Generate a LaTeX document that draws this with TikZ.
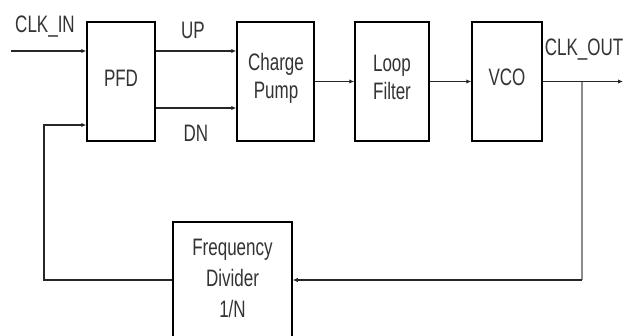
\documentclass[tikz,border=0pt]{standalone}
\usepackage{fontspec}
\setmainfont{Liberation Sans}
\usetikzlibrary{arrows.meta}
\newcommand{\vstr}[1]{\scalebox{1}[1.4]{\begin{tabular}{@{}c@{}}#1\end{tabular}}}
\tikzset{
  blk/.style={draw=black, line width=1.5pt, fill=white, inner sep=0pt},
  wire/.style={line width=1.5pt, draw=black!85},
  arr/.style={wire, -{Latex[length=5pt,width=4.5pt]}},
  lbl/.style={inner sep=0pt, text=black!80, font=\fontsize{17}{20}\selectfont},
}
\begin{document}
\begin{tikzpicture}[x=1pt,y=-1pt]
\useasboundingbox (0,0) rectangle (629,335);
\clip (0,0) rectangle (629,335);
\node[blk, minimum width=68pt, minimum height=119pt] (pfd) at (121,81.5) {};
\node[lbl] (pfdt) at (121,81) {\vstr{PFD}};
\node[blk, minimum width=77pt, minimum height=119pt] (cp) at (275.5,81.5) {};
\node[lbl] (cpt) at (276,79) {\vstr{Charge\\Pump}};
\node[blk, minimum width=74pt, minimum height=119pt] (lf) at (392,81.5) {};
\node[lbl] (lft) at (392,80) {\vstr{Loop\\Filter}};
\node[blk, minimum width=70pt, minimum height=119pt] (vco) at (507,81.5) {};
\node[lbl] (vcot) at (507,80) {\vstr{VCO}};
\node[blk, minimum width=119pt, minimum height=130pt] (div) at (232.5,287) {};
\node[lbl] (divt) at (232.5,281) {\scalebox{1}[1.4]{\begin{tabular}{@{}c@{}}Frequency\\[2pt]Divider\\[2pt]1/N\end{tabular}}};

\node[lbl] (clkin) at (45,27) {\vstr{CLK\_IN}};
\node[lbl] (up) at (193,33) {\vstr{UP}};
\node[lbl] (dn) at (196,136) {\vstr{DN}};
\node[lbl] (clkout) at (584,50) {\vstr{CLK\_OUT}};

\coordinate (cin) at (11,51);
\coordinate (dny) at (0,108);
\coordinate (fby) at (0,125);
\coordinate (cout) at (623,81.5);
\coordinate (tap) at (582,81.5);
\coordinate (tapb) at (582,280);
\coordinate (fbl) at (44,280);
\coordinate (fbt) at (44,125);

\draw[arr] (cin) -- (cin -| pfd.west);
\draw[arr] (pfd.east |- cin) -- (cp.west |- cin);
\draw[arr] (pfd.east |- dny) -- (cp.west |- dny);
\draw[arr] (cp.east) -- (lf.west);
\draw[arr] (lf.east) -- (vco.west);
\draw[arr] (vco.east) -- (cout);
\draw[line width=1.5pt, draw=black!45] (tap) -- (tapb);
\draw[arr] (tapb) -- (tapb -| div.east);
\draw[arr] (div.west |- fbl) -- (fbl) -- (fbt) -- (fbt -| pfd.west);
\end{tikzpicture}
\end{document}
